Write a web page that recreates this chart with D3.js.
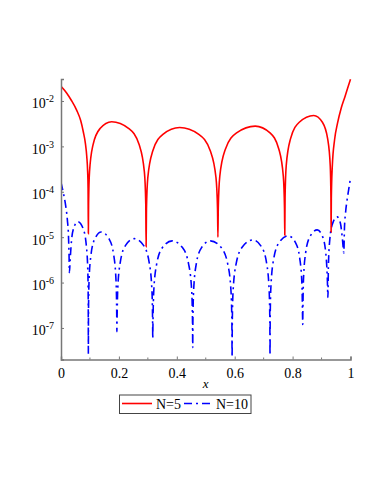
<!DOCTYPE html>
<html>
<head>
<meta charset="utf-8">
<script src="https://cdn.jsdelivr.net/npm/d3@7"></script>
<style>
  body { margin: 0; background: #fff; }
  svg { display: block; font-family: "Liberation Serif", "DejaVu Serif", serif; }
</style>
</head>
<body>
<div id="chart"></div>
<script>
let width = 382;
let height = 494;

// plot box in pixels
let plotLeft = 61, plotRight = 350.5, plotTop = 79, plotBottom = 359.5;

// x ticks and y decades
let xTicks = [0, 0.2, 0.4, 0.6, 0.8, 1];
let xMinor = [0.1, 0.3, 0.5, 0.7, 0.9];
let yDecades = [-7, -6, -5, -4, -3, -2];
let yDomain = [2.02e-8, 3.05e-2];

let seriesNames = ["N=5", "N=10"];

// error curve N=5 as [x, value]
let errN5 = [
  [0, 0.021], [0.02, 0.0148], [0.035, 0.0105], [0.054, 0.0063], [0.068, 0.0037],
  [0.077, 0.0021], [0.084, 0.0012], [0.089, 0.0006], [0.092, 0.00028], [0.0935, 0.00012],
  [0.0945, 1.2e-5],
  [0.0953, 5.5e-5], [0.0985, 2.75e-4], [0.1106, 1.08e-3], [0.1348, 2.47e-3], [0.175, 3.5e-3],
  [0.2345, 2.47e-3], [0.2702, 1.08e-3], [0.288, 2.75e-4], [0.2928, 5.5e-5],
  [0.294, 6.2e-6],
  [0.2952, 4.1e-5], [0.2998, 2.04e-4], [0.3172, 8.0e-4], [0.352, 1.84e-3], [0.41, 2.6e-3],
  [0.476, 1.84e-3], [0.5156, 8.0e-4], [0.5354, 2.04e-4], [0.5407, 4.1e-5],
  [0.542, 1.0e-5],
  [0.5433, 4.4e-5], [0.5485, 2.2e-4], [0.5678, 8.65e-4], [0.6065, 1.98e-3], [0.671, 2.8e-3],
  [0.722, 1.98e-3], [0.7526, 8.65e-4], [0.7679, 2.2e-4], [0.772, 4.4e-5],
  [0.773, 1.1e-5],
  [0.774, 7.5e-5], [0.778, 3.8e-4], [0.793, 1.48e-3], [0.823, 3.4e-3], [0.873, 4.8e-3],
  [0.903, 3.4e-3], [0.921, 1.48e-3], [0.930, 3.8e-4], [0.9324, 7.5e-5],
  [0.933, 1.3e-5],
  [0.9338, 7e-5], [0.937, 3.5e-4], [0.945, 1.4e-3], [0.955, 3.2e-3], [0.968, 7e-3],
  [0.98, 0.012], [0.99, 0.019], [1.0, 0.030]
];

// error curve N=10
let errN10 = [
  [0, 1.6e-4], [0.008, 9.5e-5], [0.016, 5e-5], [0.022, 2.4e-5], [0.026, 1.0e-5],
  [0.028, 3.5e-6], [0.029, 1.66e-6],
  [0.0319, 3.4e-6], [0.0363, 8.4e-6], [0.0435, 1.56e-5], [0.058, 2.2e-5],
  [0.0763, 1.56e-5], [0.0872, 6.8e-6], [0.0927, 1.73e-6], [0.0941, 3.5e-7],
  [0.0945, 2.7e-8],
  [0.0949, 2.0e-7], [0.0967, 1.02e-6], [0.1034, 4.0e-6], [0.1168, 9.2e-6], [0.139, 1.3e-5],
  [0.166, 9.2e-6], [0.1822, 4.0e-6], [0.1903, 1.02e-6], [0.1925, 2.0e-7],
  [0.193, 8.3e-8],
  [0.1936, 1.46e-7], [0.196, 7.3e-7], [0.205, 2.87e-6], [0.223, 6.6e-6], [0.253, 9.3e-6],
  [0.285, 6.6e-6], [0.3042, 2.87e-6], [0.3138, 7.3e-7], [0.3164, 1.46e-7],
  [0.317, 5.9e-8],
  [0.3177, 1.3e-7], [0.3204, 6.5e-7], [0.3304, 2.56e-6], [0.3505, 5.9e-6], [0.384, 8.3e-6],
  [0.4195, 5.9e-6], [0.4408, 2.56e-6], [0.4515, 6.5e-7], [0.4543, 1.3e-7],
  [0.455, 3.7e-8],
  [0.4556, 1.3e-7], [0.458, 6.5e-7], [0.4672, 2.56e-6], [0.4855, 5.9e-6], [0.516, 8.3e-6],
  [0.5535, 5.9e-6], [0.576, 2.56e-6], [0.5872, 6.5e-7], [0.5903, 1.3e-7],
  [0.591, 2.3e-8],
  [0.5917, 1.37e-7], [0.5946, 6.8e-7], [0.6054, 2.69e-6], [0.627, 6.15e-6], [0.663, 8.7e-6],
  [0.6925, 6.15e-6], [0.7102, 2.69e-6], [0.719, 6.8e-7], [0.7214, 1.37e-7],
  [0.722, 2.5e-8],
  [0.7226, 1.68e-7], [0.7252, 8.4e-7], [0.7346, 3.3e-6], [0.7535, 7.6e-6], [0.785, 1.07e-5],
  [0.81, 7.6e-6], [0.825, 3.3e-6], [0.8325, 8.4e-7], [0.8345, 1.68e-7],
  [0.835, 1.2e-7],
  [0.8355, 2.3e-7], [0.8375, 1.14e-6], [0.845, 4.5e-6], [0.86, 1.03e-5], [0.885, 1.45e-5],
  [0.9035, 1.03e-5], [0.9146, 4.5e-6], [0.9201, 1.14e-6],
  [0.922, 4.7e-7],
  [0.9236, 2.2e-6], [0.9284, 8.7e-6], [0.938, 1.98e-5], [0.954, 2.8e-5],
  [0.9655, 1.98e-5], [0.9724, 8.7e-6],
  [0.977, 4.5e-6],
  [0.979, 1.5e-5], [0.983, 3.5e-5], [0.988, 6.5e-5], [0.994, 1.15e-4], [1.0, 2.0e-4]
];

let svg = d3.select("#chart").append("svg")
  .attr("width", width)
  .attr("height", height);

let x = d3.scaleLinear().domain([0, 1]).range([plotLeft, plotRight]);
let y = d3.scaleLog().domain(yDomain).range([plotBottom, plotTop]);

svg.append("defs").append("clipPath").attr("id", "plot-clip")
  .append("rect")
  .attr("x", plotLeft).attr("y", plotTop - 2)
  .attr("width", plotRight - plotLeft + 2).attr("height", plotBottom - plotTop + 2);

let line = d3.line()
  .x(d => x(d[0]))
  .y(d => y(d[1]))
  .curve(d3.curveMonotoneX);

let plot = svg.append("g").attr("clip-path", "url(#plot-clip)");

plot.append("path")
  .datum(errN10)
  .attr("d", line)
  .attr("fill", "none")
  .attr("stroke", "#0000ff")
  .attr("stroke-width", 1.6)
  .attr("stroke-dasharray", "8,4,2,4");

plot.append("path")
  .datum(errN5)
  .attr("d", line)
  .attr("fill", "none")
  .attr("stroke", "#ff0000")
  .attr("stroke-width", 1.6);

// axes
let axisColour = "#777";

let xAxis = svg.append("g")
  .attr("transform", `translate(0, ${plotBottom})`)
  .call(d3.axisBottom(x).tickValues(xTicks).tickSize(-3).tickPadding(9)
    .tickFormat(d => d === 0 || d === 1 ? d3.format("d")(d) : d3.format(".1f")(d)));
svg.append("g")
  .attr("transform", `translate(0, ${plotBottom})`)
  .selectAll("line")
  .data(xMinor)
  .enter().append("line")
  .attr("x1", d => x(d)).attr("x2", d => x(d))
  .attr("y1", 0).attr("y2", -2)
  .attr("stroke", axisColour);

let yAxis = svg.append("g")
  .attr("transform", `translate(${plotLeft}, 0)`)
  .call(d3.axisLeft(y).tickValues(yDecades.map(e => Math.pow(10, e))).tickSize(-3).tickFormat(""));

for (let g of [xAxis, yAxis]) {
  g.select(".domain").attr("stroke", axisColour).attr("stroke-width", 1.5);
  g.selectAll(".tick line").attr("stroke", axisColour);
}
xAxis.selectAll(".tick text")
  .attr("font-family", "Liberation Serif, serif")
  .attr("font-size", 14)
  .attr("fill", "#000");

// y labels: 10 with superscript exponent
let yLabels = svg.append("g").attr("font-size", 14).attr("fill", "#000");
for (let e of yDecades) {
  let yy = y(Math.pow(10, e));
  let t = yLabels.append("text")
    .attr("x", 54)
    .attr("y", yy + 7.5)
    .attr("text-anchor", "end");
  t.append("tspan").text("10");
  t.append("tspan")
    .attr("font-size", 10)
    .attr("dy", -6)
    .text("-" + Math.abs(e));
}

svg.append("text")
  .attr("x", (plotLeft + plotRight) / 2)
  .attr("y", 388)
  .attr("text-anchor", "middle")
  .attr("font-size", 13)
  .attr("font-style", "italic")
  .text("x");

// legend
let legend = svg.append("g");
legend.append("rect")
  .attr("x", 119.5).attr("y", 395)
  .attr("width", 131.5).attr("height", 18.5)
  .attr("fill", "#fff")
  .attr("stroke", "#444")
  .attr("stroke-width", 1);
let legendItems = [
  {name: seriesNames[0], colour: "#ff0000", dash: null, x0: 122, x1: 152, tx: 156},
  {name: seriesNames[1], colour: "#0000ff", dash: "8,4,2,4", x0: 184, x1: 212, tx: 216},
];
for (let it of legendItems) {
  legend.append("line")
    .attr("x1", it.x0).attr("x2", it.x1)
    .attr("y1", 403.5).attr("y2", 403.5)
    .attr("stroke", it.colour)
    .attr("stroke-width", 1.6)
    .attr("stroke-dasharray", it.dash);
  legend.append("text")
    .attr("x", it.tx).attr("y", 408.5)
    .attr("font-size", 14)
    .text(it.name);
}
</script>
</body>
</html>
